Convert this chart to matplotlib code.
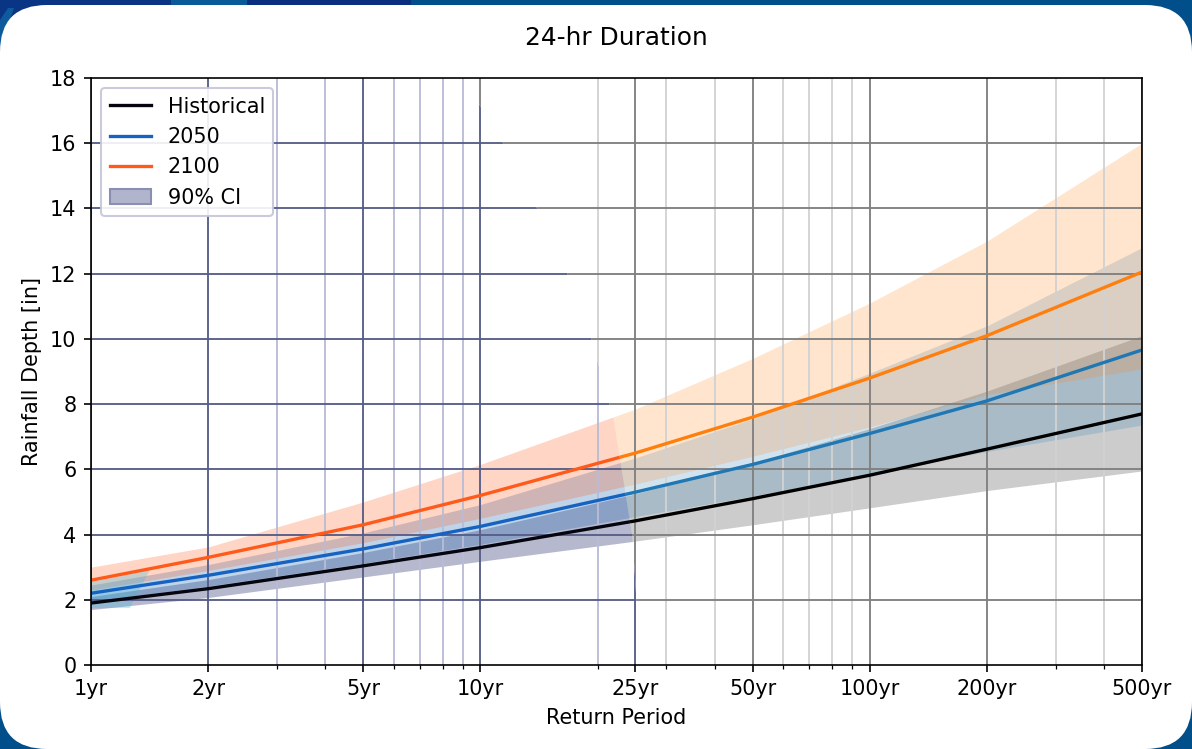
import matplotlib
matplotlib.use("Agg")
import matplotlib.pyplot as plt
from matplotlib.patches import Polygon, FancyBboxPatch, Rectangle, Patch
from matplotlib.lines import Line2D
from matplotlib.ticker import FixedLocator, FixedFormatter, NullFormatter

# ---- data -------------------------------------------------------------
return_periods = [1, 2, 5, 10, 25, 50, 100, 200, 500]
period_labels = ["1yr", "2yr", "5yr", "10yr", "25yr", "50yr", "100yr", "200yr", "500yr"]
minor_periods = [3, 4, 6, 7, 8, 9, 20, 30, 40, 60, 70, 80, 90, 300, 400]
depth_ticks = [0, 2, 4, 6, 8, 10, 12, 14, 16, 18]

historical = [1.90, 2.34, 3.04, 3.60, 4.42, 5.10, 5.82, 6.62, 7.70]
historical_lo = [1.70, 2.07, 2.70, 3.18, 3.80, 4.30, 4.82, 5.35, 5.95]
historical_hi = [2.10, 2.62, 3.45, 4.15, 5.25, 6.20, 7.25, 8.40, 10.10]

proj_2050 = [2.20, 2.75, 3.56, 4.25, 5.30, 6.15, 7.10, 8.10, 9.66]
proj_2050_lo = [1.95, 2.42, 3.12, 3.70, 4.55, 5.18, 5.85, 6.55, 7.36]
proj_2050_hi = [2.45, 3.08, 4.05, 4.92, 6.35, 7.55, 8.95, 10.40, 12.80]

proj_2100 = [2.60, 3.30, 4.30, 5.20, 6.50, 7.60, 8.80, 10.10, 12.05]
proj_2100_lo = [2.30, 2.90, 3.75, 4.50, 5.55, 6.40, 7.30, 8.30, 9.08]
proj_2100_hi = [3.00, 3.62, 5.00, 6.15, 7.85, 9.40, 11.10, 13.00, 16.00]

# ---- palettes ---------------------------------------------------------
plain = dict(major="#808080", minor="#d2d2d2", ci="#808080", ci_a=0.4,
             b50="#1f77b4", b50_a=0.2, b100="#ff7f0e", b100_a=0.2,
             hist="#000000", l50="#1f77b4", l100="#ff7f0e")
navy = dict(major="#575d86", minor="#b9bcd6", ci="#4a5286", ci_a=0.4,
            b50="#1a64b0", b50_a=0.28, b100="#ff5a1a", b100_a=0.25,
            hist="#05050f", l50="#1562c0", l100="#ff5a1a")

W, H, DPI = 1192, 749, 149
fig = plt.figure(figsize=(W / DPI, H / DPI), dpi=DPI)
fig.patch.set_facecolor("#004f8a")

# page frame: header strip and rounded white card
bg = fig.add_axes([0, 0, 1, 1], zorder=-5)
bg.set_xlim(0, W)
bg.set_ylim(H, 0)
bg.axis("off")
bg.add_patch(Rectangle((0, 0), 171, 70, color="#0a3584", lw=0))
bg.add_patch(Rectangle((171, 0), 76, 6, color="#0a5a98", lw=0))
bg.add_patch(Rectangle((247, 0), 164, 6, color="#0a2f7e", lw=0))
bg.add_patch(Polygon([(0, 20), (8, 8), (14, 8), (0, 48)], closed=True,
                     color="#0d5a9c", lw=0))
bg.add_patch(FancyBboxPatch((0, 5), W, H - 5,
                            boxstyle="round,pad=0,rounding_size=47",
                            facecolor="white", edgecolor="none"))

ax = fig.add_axes([91 / W, 1 - 665 / H, 1051 / W, 587 / H])
ax.set_xscale("log")
ax.set_xlim(return_periods[0], return_periods[-1])
ax.set_ylim(depth_ticks[0], depth_ticks[-1])

# left/right split of the plotting area (top to bottom)
split = [(0.354, 1.0), (0.392, 0.889), (0.424, 0.779), (0.453, 0.668),
         (0.476, 0.555), (0.497, 0.421), (0.515, 0.221), (0.519, 0.111),
         (0.522, 0.0)]
left_clip = Polygon([(0, 0), (0, 1)] + split, closed=True, transform=ax.transAxes)
right_clip = Polygon(split + [(1, 0), (1, 1)], closed=True, transform=ax.transAxes)


def draw_layer(pal, clip):
    arts = []
    for t in minor_periods:
        arts.append(ax.axvline(t, color=pal["minor"], lw=0.9, zorder=1.4))
    for t in return_periods:
        arts.append(ax.axvline(t, color=pal["major"], lw=0.9, zorder=1.5))
    for v in depth_ticks[1:-1]:
        arts.append(ax.axhline(v, color=pal["major"], lw=0.9, zorder=1.5))
    arts.append(ax.fill_between(return_periods, historical_lo, historical_hi,
                                color=pal["ci"], alpha=pal["ci_a"], lw=0, zorder=1))
    arts.append(ax.fill_between(return_periods, proj_2050_lo, proj_2050_hi,
                                color=pal["b50"], alpha=pal["b50_a"], lw=0, zorder=1))
    arts.append(ax.fill_between(return_periods, proj_2100_lo, proj_2100_hi,
                                color=pal["b100"], alpha=pal["b100_a"], lw=0, zorder=1))
    arts += ax.plot(return_periods, historical, color=pal["hist"], lw=1.6, zorder=2)
    arts += ax.plot(return_periods, proj_2050, color=pal["l50"], lw=1.6, zorder=2)
    arts += ax.plot(return_periods, proj_2100, color=pal["l100"], lw=1.6, zorder=2)
    for a in arts:
        a.set_clip_path(clip)


draw_layer(plain, right_clip)
draw_layer(navy, left_clip)

# light cyan haze near the 1-yr end of the bands
ax.add_patch(Polygon([(0, 0.141), (0.056, 0.162), (0.037, 0.097), (0, 0.097)],
                     closed=True, transform=ax.transAxes, facecolor="#40b8d8",
                     alpha=0.3, lw=0, zorder=1.2))

ax.xaxis.set_major_locator(FixedLocator(return_periods))
ax.xaxis.set_major_formatter(FixedFormatter(period_labels))
ax.xaxis.set_minor_locator(FixedLocator(minor_periods))
ax.xaxis.set_minor_formatter(NullFormatter())
ax.set_yticks(depth_ticks)
ax.tick_params(labelsize=10)

ax.set_title("24-hr Duration", fontsize=12, pad=16)
ax.set_xlabel("Return Period", fontsize=10)
ax.set_ylabel("Rainfall Depth [in]", fontsize=10)

handles = [
    Line2D([], [], color=navy["hist"], lw=1.6),
    Line2D([], [], color=navy["l50"], lw=1.6),
    Line2D([], [], color=navy["l100"], lw=1.6),
    Patch(facecolor="#b0b4cc", edgecolor="#8a8eb0", lw=1.0),
]
leg = ax.legend(handles, ["Historical", "2050", "2100", "90% CI"],
                loc="upper left", fontsize=10, framealpha=0.9)
leg.get_frame().set_edgecolor("#c4c6da")

fig.savefig("out.png", dpi=DPI, facecolor=fig.get_facecolor())
